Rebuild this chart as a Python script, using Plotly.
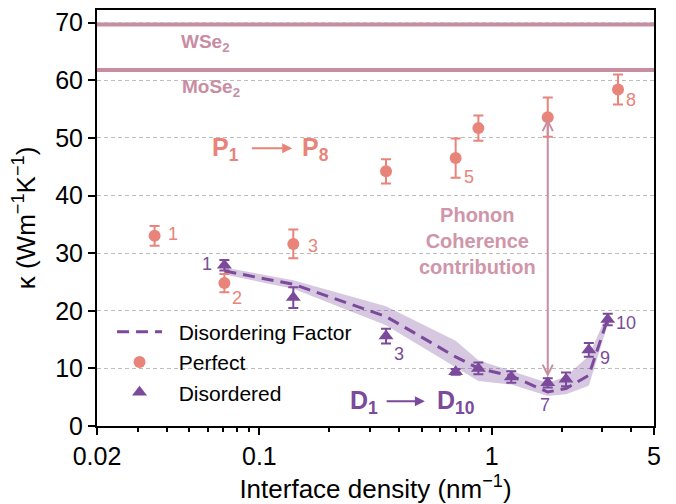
import math
import plotly.graph_objects as go

# interface density (nm^-1) vs thermal conductivity kappa (W m^-1 K^-1)
perfect_x = [0.0354, 0.0707, 0.140, 0.351, 0.700, 0.877, 1.744, 3.50]
perfect_k = [33.0, 24.8, 31.6, 44.2, 46.5, 51.7, 53.6, 58.4]
perfect_err = [1.7, 1.6, 2.5, 2.1, 3.4, 2.2, 3.4, 2.6]
perfect_tags = ["1", "2", "3", "", "5", "", "", "8"]

disordered_x = [0.0707, 0.140, 0.351, 0.700, 0.877, 1.215, 1.744, 2.09, 2.62, 3.16]
disordered_k = [27.9, 22.3, 15.6, 9.4, 10.0, 8.5, 7.5, 8.1, 13.2, 18.5]
disordered_err = [0.9, 1.8, 1.3, 0.5, 1.0, 1.0, 0.8, 1.2, 1.2, 1.0]
disordered_tags = ["1", "", "3", "", "", "", "7", "", "9", "10"]

factor_k = [26.9, 24.6, 19.0, 12.0, 10.0, 8.7, 5.9, 6.5, 8.8, 18.6]
factor_hi = [27.5, 25.3, 20.8, 14.8, 11.4, 9.6, 7.5, 8.6, 12.2, 19.6]
factor_lo = [26.3, 23.8, 17.5, 10.3, 7.8, 7.2, 5.2, 5.5, 7.0, 17.6]

bulk_names = ["WSe<sub>2</sub>", "MoSe<sub>2</sub>"]
bulk_k = [69.7, 61.8]

FONT = "Liberation Sans, Arial, sans-serif"
SALMON = "#e8847a"
PURPLE = "#7b4a9a"
BAND = "rgba(123,74,154,0.30)"
MAUVE = "#c98da2"
MAUVE_TXT = "#d095a9"
PAD = "\u00a0\u00a0"

# label offsets in px (styling only)
perfect_shift = [(18, 2), (13, -15), (20, -2), (0, 0), (13, -19), (0, 0), (0, 0), (13, -10)]
disordered_shift = [(-17, 1), (0, 0), (13, -18), (0, 0), (0, 0), (0, 0), (-3, -22), (0, 0), (16, -8), (18, -4)]

lg = math.log10

fig = go.Figure()

fig.add_trace(go.Scatter(x=disordered_x, y=factor_lo, mode="lines", line=dict(width=0),
                         showlegend=False, hoverinfo="skip"))
fig.add_trace(go.Scatter(x=disordered_x, y=factor_hi, mode="lines", line=dict(width=0),
                         fill="tonexty", fillcolor=BAND, showlegend=False, hoverinfo="skip"))
fig.add_trace(go.Scatter(
    x=disordered_x, y=factor_k, mode="lines", name=PAD + "Disordering Factor",
    line=dict(color=PURPLE, width=3, dash="12px,7px"),
))
fig.add_trace(go.Scatter(
    x=perfect_x, y=perfect_k, mode="markers", name=PAD + "Perfect",
    marker=dict(symbol="circle", size=12, color=SALMON),
    error_y=dict(type="data", array=perfect_err, color=SALMON, thickness=2, width=5),
))
fig.add_trace(go.Scatter(
    x=disordered_x, y=disordered_k, mode="markers", name=PAD + "Disordered",
    marker=dict(symbol="triangle-up", size=13, color=PURPLE),
    error_y=dict(type="data", array=disordered_err, color=PURPLE, thickness=2, width=5),
))

for k in bulk_k:
    fig.add_hline(y=k, line=dict(color=MAUVE, width=4), layer="below")

# bulk labels
fig.add_annotation(x=lg(0.0586), y=66.4, text="<b>" + bulk_names[0] + "</b>", showarrow=False,
                   font=dict(size=19, color=MAUVE))
fig.add_annotation(x=lg(0.0622), y=58.7, text="<b>" + bulk_names[1] + "</b>", showarrow=False,
                   font=dict(size=19, color=MAUVE))

# point numbers
for x, k, t, (dx, dy) in zip(perfect_x, perfect_k, perfect_tags, perfect_shift):
    if t:
        fig.add_annotation(x=lg(x), y=k, text=t, showarrow=False, xshift=dx, yshift=dy,
                           font=dict(size=18, color=SALMON))
for x, k, t, (dx, dy) in zip(disordered_x, disordered_k, disordered_tags, disordered_shift):
    if t:
        fig.add_annotation(x=lg(x), y=k, text=t, showarrow=False, xshift=dx, yshift=dy,
                           font=dict(size=18, color=PURPLE))

# P1 -> P8
fig.add_annotation(x=lg(0.0836), y=48.0, text="<b>P<sub>1</sub></b>", showarrow=False,
                   xanchor="right", font=dict(size=25, color=SALMON))
fig.add_annotation(x=lg(0.150), y=48.0, text="<b>P<sub>8</sub></b>", showarrow=False,
                   xanchor="left", font=dict(size=25, color=SALMON))
fig.add_annotation(x=lg(0.1385), y=48.2, ax=lg(0.0915), ay=48.2, axref="x", ayref="y",
                   text="", showarrow=True, arrowhead=2, arrowsize=1, arrowwidth=2,
                   arrowcolor=SALMON)

# D1 -> D10
fig.add_annotation(x=lg(0.330), y=4.1, text="<b>D<sub>1</sub></b>", showarrow=False,
                   xanchor="right", font=dict(size=25, color=PURPLE))
fig.add_annotation(x=lg(0.571), y=4.1, text="<b>D<sub>10</sub></b>", showarrow=False,
                   xanchor="left", font=dict(size=25, color=PURPLE))
fig.add_annotation(x=lg(0.516), y=4.3, ax=lg(0.348), ay=4.3, axref="x", ayref="y",
                   text="", showarrow=True, arrowhead=2, arrowsize=1, arrowwidth=2,
                   arrowcolor=PURPLE)

# phonon coherence arrow and label
fig.add_annotation(x=lg(perfect_x[6]), y=disordered_k[6] + 1.0,
                   ax=lg(perfect_x[6]), ay=perfect_k[6], axref="x", ayref="y",
                   text="", showarrow=True, arrowhead=5, startarrowhead=5, arrowside="end+start",
                   arrowsize=1, startarrowsize=1, arrowwidth=2, arrowcolor=MAUVE)
fig.add_annotation(x=lg(0.87), y=32.1, text="<b>Phonon<br>Coherence<br>contribution</b>",
                   showarrow=False, font=dict(size=20, color=MAUVE_TXT))

fig.update_xaxes(
    type="log", range=[lg(0.02), lg(5)], automargin=False,
    tickvals=[0.02, 0.1, 1, 5], ticktext=["0.02", "0.1", "1", "5"],
    ticks="outside", ticklen=7, tickwidth=2, tickcolor="black",
    showline=True, linewidth=2, linecolor="black", mirror=True,
    showgrid=False, zeroline=False,
    minor=dict(tickvals=[0.03, 0.04, 0.05, 0.06, 0.07, 0.08, 0.09,
                         0.2, 0.3, 0.4, 0.5, 0.6, 0.7, 0.8, 0.9, 2, 3, 4],
               ticks="outside", ticklen=4, tickwidth=1.5, tickcolor="black", showgrid=False),
    title=dict(text="Interface density (nm<sup>−1</sup>)", font=dict(size=26), standoff=11),
    tickfont=dict(size=25),
)
fig.update_yaxes(
    range=[0, 72.2], tickvals=[0, 10, 20, 30, 40, 50, 60, 70], automargin=False,
    ticks="outside", ticklen=7, tickwidth=2, tickcolor="black",
    showline=True, linewidth=2, linecolor="black", mirror=True,
    showgrid=True, gridcolor="#bdbdbd", gridwidth=1, griddash="4px,3px", zeroline=False,
    title=dict(text="κ (Wm<sup>−1</sup>K<sup>−1</sup>)", font=dict(size=26), standoff=12),
    tickfont=dict(size=25),
)

# page body adds an 8px offset, so the figure is sized to the remaining window
fig.update_layout(
    width=668, height=496,
    margin=dict(l=89, r=22, t=2, b=78),
    plot_bgcolor="white", paper_bgcolor="white",
    font=dict(family=FONT, size=22, color="black"),
    legend=dict(x=0.027, y=0.275, xanchor="left", yanchor="top", bgcolor="rgba(0,0,0,0)",
                font=dict(size=21), tracegroupgap=0, traceorder="normal", itemwidth=45),
)

fig.write_html("out.html")
